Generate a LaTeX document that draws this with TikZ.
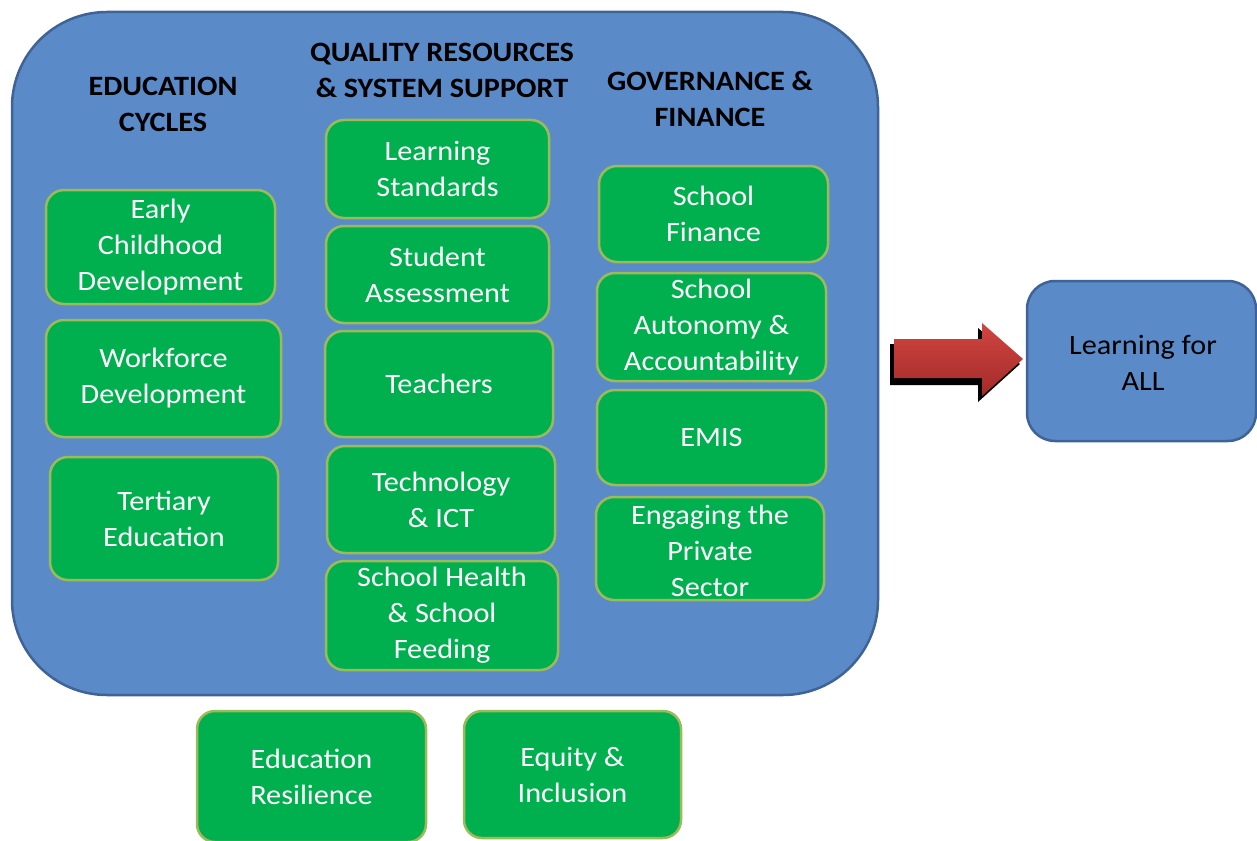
\documentclass[tikz,border=0pt]{standalone}
\usepackage{fontspec}
\setmainfont{Carlito}[FakeStretch=1.08]
\definecolor{bluefill}{HTML}{5A8BC8}
\definecolor{blueline}{HTML}{3F6397}
\definecolor{boxgreen}{HTML}{00B04F}
\definecolor{boxborder}{HTML}{9BBB59}
\definecolor{arrowtop}{HTML}{D24540}
\definecolor{arrowbot}{HTML}{A22B2A}
\begin{document}
\begin{tikzpicture}[x=1pt,y=-1pt,
  gbox/.style={draw=boxborder, line width=2.5pt, fill=boxgreen, rounded corners=18pt,
    text=white, align=center, font=\fontsize{28}{36}\selectfont, inner sep=0pt},
  gtext/.style={text=white, align=center, font=\fontsize{28}{36}\selectfont, inner sep=0pt},
  head/.style={font=\bfseries\fontsize{28}{36}\selectfont, align=center, text=black, inner sep=0pt},
  bluebox/.style={draw=blueline, line width=2.5pt, fill=bluefill},
  arrowshape/.style={top color=arrowtop, bottom color=arrowbot, draw=none},
  arrowshadow/.style={fill=black, draw=none}]
\useasboundingbox (0,0) rectangle (1257,840);
% main container
\node[bluebox, rounded corners=95pt, minimum width=866pt, minimum height=683pt, inner sep=0pt] (main) at (445,353.5) {};
% headers
\node[head] (hec) at (163,104) {EDUCATION\\CYCLES};
\node[head] (hqr) at (442,70) {QUALITY RESOURCES\\\& SYSTEM SUPPORT};
\node[head] (hgf) at (710,99) {GOVERNANCE \&\\FINANCE};
% column 1
\node[gbox, minimum width=229pt, minimum height=114pt] (ecd) at (160.5,247) {Early\\Childhood\\Development};
\node[gbox, minimum width=235pt, minimum height=117pt] (wfd) at (163.5,378.5) {Workforce\\Development};
\node[gbox, minimum width=228pt, minimum height=123pt] (ter) at (164,518.5) {Tertiary\\Education};
% column 2
\node[gbox, minimum width=223pt, minimum height=98pt] (ls) at (437.5,169) {Learning\\Standards};
\node[gbox, minimum width=223pt, minimum height=97pt] (sa) at (437.5,274.5) {Student\\Assessment};
\node[gbox, minimum width=228pt, minimum height=106pt] (tea) at (439,384) {Teachers};
\node[gbox, minimum width=228pt, minimum height=107pt] (tech) at (441,499.5) {Technology\\\& ICT};
\node[gbox, minimum width=232pt, minimum height=109pt] (shs) at (442,615.5) {School Health\\\& School\\Feeding};
% column 3
\node[gbox, minimum width=229pt, minimum height=96pt] (sf) at (713.5,214) {School\\Finance};
\node[gbox, minimum width=229pt, minimum height=108pt] (saa) at (711.5,327) {School\\Autonomy \&\\Accountability};
\node[gbox, minimum width=229pt, minimum height=95pt] (emis) at (711.5,437.5) {EMIS};
\node[gbox, minimum width=228pt, minimum height=103pt] (eps) at (710,548.5) {};
\begin{scope}
  \clip[rounded corners=18pt] (596,497) rectangle (824,600);
  \node[gtext] (epst) at (710,551) {Engaging the\\Private\\Sector};
\end{scope}
% bottom
\node[gbox, minimum width=229pt, minimum height=131pt] (er) at (311.5,776.5) {Education\\Resilience};
\node[gbox, minimum width=217pt, minimum height=127pt] (eqi) at (572.5,774.5) {Equity \&\\Inclusion};
% outcome
\node[bluebox, rounded corners=28pt, minimum width=229pt, minimum height=160pt, inner sep=0pt] (lfa) at (1141.5,361) {};
\node[align=center, font=\fontsize{28}{36}\selectfont, text=black, inner sep=0pt] (lfat) at (1143,363) {Learning for\\ALL};
% block arrow
\coordinate (atip) at (1023,359);
\fill[arrowshadow] (890,344) -- (978,344) -- (978,328) -- (1020,364) -- (978,402) -- (978,385) -- (890,385) -- cycle;
\path[arrowshape] (894,339) -- (982,339) -- (982,323) -- (atip) -- (982,396) -- (982,378) -- (894,378) -- cycle;
\end{tikzpicture}
\end{document}
